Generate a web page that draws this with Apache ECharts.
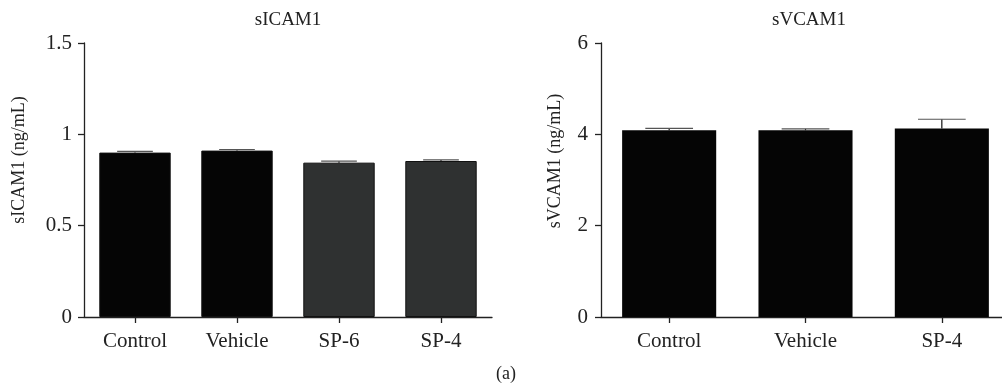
<!DOCTYPE html>
<html>
<head>
<meta charset="utf-8">
<script src="https://cdn.jsdelivr.net/npm/echarts@6/dist/echarts.min.js"></script>
<style>html,body{margin:0;padding:0;background:#fff;}#c{width:1002px;height:392px;}</style>
</head>
<body>
<div id="c"></div>
<script>
var categoriesA = ['Control', 'Vehicle', 'SP-6', 'SP-4'];
var icamMean = [0.900, 0.911, 0.845, 0.854];
var icamErr = [0.007, 0.006, 0.008, 0.006];
var icamColors = ['#050505', '#050505', '#2f3131', '#2f3131'];

var categoriesB = ['Control', 'Vehicle', 'SP-4'];
var vcamMean = [4.09, 4.09, 4.13];
var vcamErr = [0.04, 0.03, 0.20];

var FONT = 'Liberation Serif';
var TXT = '#222';

function errData(mean, err) {
  return mean.map(function (m, i) { return [i, m, m + err[i]]; });
}
function errRender(params, api) {
  var x = api.value(0);
  var top = api.coord([x, api.value(2)]);
  var base = api.coord([x, api.value(1)]);
  var band = api.size([1, 0])[0];
  var half = band * 0.7 * 0.25;
  return {
    type: 'group',
    children: [
      { type: 'line', shape: { x1: top[0], y1: top[1], x2: base[0], y2: base[1] }, style: { stroke: '#111', lineWidth: 1.2 } },
      { type: 'line', shape: { x1: top[0] - half, y1: top[1], x2: top[0] + half, y2: top[1] }, style: { stroke: '#555', lineWidth: 1.2 } }
    ]
  };
}

var axisLine = { show: true, lineStyle: { color: '#222', width: 1.3 } };
var axisTick = { show: true, length: 6, lineStyle: { color: '#222', width: 1.3 } };

var chart = echarts.init(document.getElementById('c'), null, { renderer: 'canvas' });
chart.setOption({
  animation: false,
  grid: [
    { left: 84, top: 43, width: 408, height: 274, outerBoundsMode: 'none', containLabel: false },
    { left: 601, top: 43, width: 409, height: 274, outerBoundsMode: 'none', containLabel: false }
  ],
  xAxis: [
    { type: 'category', gridIndex: 0, data: categoriesA, axisLine: axisLine, axisTick: Object.assign({ alignWithLabel: true }, axisTick),
      axisLabel: { fontFamily: FONT, fontSize: 21, color: TXT, margin: 14 } },
    { type: 'category', gridIndex: 1, data: categoriesB, axisLine: axisLine, axisTick: Object.assign({ alignWithLabel: true }, axisTick),
      axisLabel: { fontFamily: FONT, fontSize: 21, color: TXT, margin: 14 } }
  ],
  yAxis: [
    { type: 'value', gridIndex: 0, min: 0, max: 1.5, interval: 0.5, axisLine: axisLine, axisTick: axisTick, splitLine: { show: false },
      axisLabel: { fontFamily: FONT, fontSize: 21, color: TXT, margin: 12 } },
    { type: 'value', gridIndex: 1, min: 0, max: 6, interval: 2, axisLine: axisLine, axisTick: axisTick, splitLine: { show: false },
      axisLabel: { fontFamily: FONT, fontSize: 21, color: TXT, margin: 13 } }
  ],
  series: [
    { type: 'bar', xAxisIndex: 0, yAxisIndex: 0, barWidth: '70%',
      data: icamMean.map(function (v, i) { return { value: v, itemStyle: { color: icamColors[i], borderColor: '#111', borderWidth: 1 } }; }) },
    { type: 'custom', xAxisIndex: 0, yAxisIndex: 0, renderItem: errRender, data: errData(icamMean, icamErr), z: 5 },
    { type: 'bar', xAxisIndex: 1, yAxisIndex: 1, barWidth: '69%',
      itemStyle: { color: '#050505' }, data: vcamMean },
    { type: 'custom', xAxisIndex: 1, yAxisIndex: 1, renderItem: errRender, data: errData(vcamMean, vcamErr), z: 5 }
  ],
  graphic: [
    { type: 'text', x: 288, y: 20, style: { text: 'sICAM1', font: '19px "Liberation Serif"', fill: TXT, textAlign: 'center', textVerticalAlign: 'middle' } },
    { type: 'text', x: 809, y: 20, style: { text: 'sVCAM1', font: '19px "Liberation Serif"', fill: TXT, textAlign: 'center', textVerticalAlign: 'middle' } },
    { type: 'text', x: 19, y: 160, rotation: Math.PI / 2, style: { text: 'sICAM1 (ng/mL)', font: '18px "Liberation Serif"', fill: TXT, textAlign: 'center', textVerticalAlign: 'middle' } },
    { type: 'text', x: 555, y: 161, rotation: Math.PI / 2, style: { text: 'sVCAM1 (ng/mL)', font: '18px "Liberation Serif"', fill: TXT, textAlign: 'center', textVerticalAlign: 'middle' } },
    { type: 'text', x: 506, y: 374, style: { text: '(a)', font: '18px "Liberation Serif"', fill: TXT, textAlign: 'center', textVerticalAlign: 'middle' } }
  ]
});
</script>
</body>
</html>
